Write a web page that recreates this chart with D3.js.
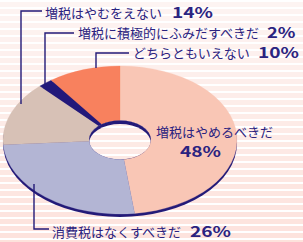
<!DOCTYPE html>
<html>
<head>
<meta charset="utf-8">
<script src="https://cdn.jsdelivr.net/npm/d3@7"></script>
<style>
  body { margin: 0; background: #fff; }
  svg { display: block; }
  .lbl { font-family: "Noto Sans CJK JP", sans-serif; fill: #2b2380; }
</style>
</head>
<body>
<div id="chart"></div>
<script>
(function() {
    var width = 303,
        height = 242;

    // data
    var categories = ["増税はやめるべきだ", "消費税はなくすべきだ", "増税はやむをえない", "増税に積極的にふみだすべきだ", "どちらともいえない"];
    var values = [48, 26, 14, 2, 10];
    var colors = ["#f9c6b5", "#b3b5d4", "#d7c1b6", "#22187a", "#f8815e"];

    var navy = "#231a78";

    var svg = d3.select("#chart")
        .append("svg")
        .attr("width", width)
        .attr("height", height);

    // striped background, fading pinker toward the bottom
    var stripeColor = d3.scaleLinear().domain([0, height]).range(["#fdf4f2", "#fde2dc"]);
    var stripes = d3.range(0, height, 7);
    svg.selectAll(".stripe")
        .data(stripes)
        .enter().append("rect")
        .attr("class", "stripe")
        .attr("x", 0)
        .attr("y", function(d) { return d + 2 })
        .attr("width", width)
        .attr("height", 5)
        .attr("fill", function(d) { return stripeColor(d) });

    var cx = 120, cy = 140, rx = 117, ry = 74, depth = 3;
    var R = 100, r = 26.5;
    var hrx = rx * r / R, hry = ry * r / R;

    var defs = svg.append("defs");

    // rim mask: shifted disc, but nothing inside the hole
    var rimMask = defs.append("mask").attr("id", "rim");
    rimMask.append("rect").attr("width", width).attr("height", height).attr("fill", "white");
    rimMask.append("ellipse")
        .attr("cx", cx).attr("cy", cy).attr("rx", hrx).attr("ry", hry)
        .attr("fill", "black");

    // bottom rim of the disc
    svg.append("ellipse")
        .attr("cx", cx).attr("cy", cy + depth)
        .attr("rx", rx).attr("ry", ry)
        .attr("fill", navy)
        .attr("mask", "url(#rim)");

    var pie = d3.pie().sort(null).value(function(d) { return d });
    var arc = d3.arc().innerRadius(r).outerRadius(R);

    var g = svg.append("g")
        .attr("transform", "translate(" + cx + "," + cy + ") scale(" + (rx / R) + "," + (ry / R) + ")");

    g.selectAll(".slice")
        .data(pie(values))
        .enter().append("path")
        .attr("class", "slice")
        .attr("d", arc)
        .attr("fill", function(d, i) { return colors[i] })
        .attr("stroke", function(d, i) { return colors[i] })
        .attr("stroke-width", 0.3);

    // inner wall of the hole (top crescent only)
    var wallMask = defs.append("mask").attr("id", "wall");
    wallMask.append("ellipse")
        .attr("cx", cx).attr("cy", cy).attr("rx", hrx).attr("ry", hry)
        .attr("fill", "white");
    wallMask.append("ellipse")
        .attr("cx", cx).attr("cy", cy + depth + 0.5).attr("rx", hrx).attr("ry", hry)
        .attr("fill", "black");
    svg.append("rect")
        .attr("x", cx - hrx - 2).attr("y", cy - hry - 2)
        .attr("width", hrx * 2 + 4).attr("height", hry * 2 + 4)
        .attr("fill", navy)
        .attr("mask", "url(#wall)");

    // leader lines
    var leaders = [
        [[21, 104], [21, 11], [42, 11]],
        [[45, 85], [45, 33], [74, 33]],
        [[96, 68], [96, 53], [129, 53]],
        [[34, 184], [34, 229], [49, 229]]
    ];
    svg.selectAll(".leader")
        .data(leaders)
        .enter().append("path")
        .attr("class", "leader")
        .attr("d", d3.line())
        .attr("fill", "none")
        .attr("stroke", navy)
        .attr("stroke-width", 1.4);

    // labels: [category index, text x, baseline, pct x, pct baseline]
    var labelPos = [
        [2, 45, 18, 172, 18],
        [3, 78, 38, 267, 38],
        [4, 133, 58, 258, 58],
        [1, 52, 237, 190, 237],
        [0, 156, 137, 180, 157]
    ];

    labelPos.forEach(function(p) {
        var pct = values[p[0]] + "%";
        svg.append("text")
            .attr("class", "lbl")
            .attr("x", p[1])
            .attr("y", p[2])
            .attr("font-size", 13)
            .text(categories[p[0]]);
        svg.append("text")
            .attr("class", "lbl")
            .attr("x", p[3])
            .attr("y", p[4])
            .attr("font-size", 15)
            .attr("font-weight", "bold")
            .attr("textLength", (pct.length - 1) * 12.5 + 16)
            .attr("lengthAdjust", "spacingAndGlyphs")
            .text(pct);
    });
})();
</script>
</body>
</html>
